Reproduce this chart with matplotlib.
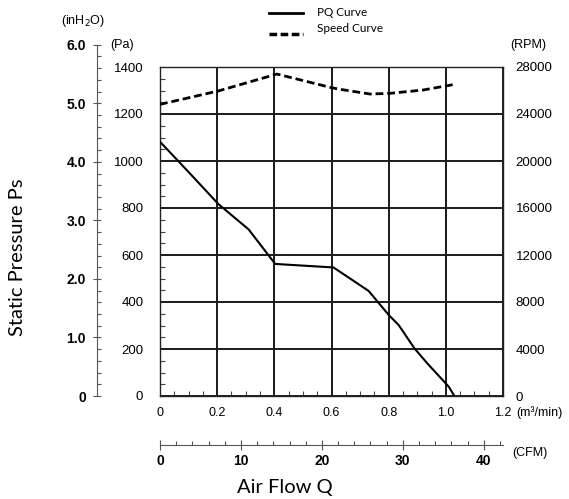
import numpy as np
import matplotlib
matplotlib.use('Agg')
import matplotlib.pyplot as plt
from matplotlib.lines import Line2D
from matplotlib.ticker import MultipleLocator

# PQ curve (flow in m3/min, static pressure in Pa)
pq_flow = [0, 0.10, 0.204, 0.31, 0.403, 0.607, 0.73, 0.80, 0.835, 0.89, 0.935, 1.01, 1.03]
pq_pa = [1082, 953, 817, 709, 562, 547, 447, 345, 302, 203, 139, 40, 0]

# Speed curve (RPM)
speed_flow = [0, 0.204, 0.409, 0.60, 0.63, 0.735, 0.805, 0.92, 1.033]
speed_rpm = [24820, 25960, 27400, 26240, 26100, 25700, 25760, 26040, 26530]

flow_ticks = [0, 0.2, 0.4, 0.6, 0.8, 1.0, 1.2]
flow_labels = ['0', '0.2', '0.4', '0.6', '0.8', '1.0', '1.2']
pa_ticks = [0, 200, 400, 600, 800, 1000, 1200, 1400]
rpm_ticks = [0, 4000, 8000, 12000, 16000, 20000, 24000, 28000]
inh2o_ticks = [0, 1, 2, 3, 4, 5, 6]
inh2o_labels = ['0', '1.0', '2.0', '3.0', '4.0', '5.0', '6.0']
cfm_ticks = [0, 10, 20, 30, 40]

PA_PER_INH2O = 249.089
CFM_PER_M3MIN = 1 / 0.0283168

W, H = 569, 499
tick_font = 'Liberation Sans'
title_font = 'Lato'


def fx(px):
    return px / W


def fy(py):
    return 1 - py / H


fig = plt.figure(figsize=(W / 100, H / 100), dpi=100)

# main plot area
x0, x1, y0, y1 = 160, 503, 396, 67
ax = fig.add_axes([fx(x0), fy(y0), fx(x1) - fx(x0), fy(y1) - fy(y0)])
ax.set_xlim(0, 1.2)
ax.set_ylim(0, 1400)
ax.set_xticks(flow_ticks)
ax.set_xticklabels(flow_labels, fontfamily=tick_font, fontsize=9)
ax.set_yticks(pa_ticks)
ax.set_yticklabels([str(t) for t in pa_ticks], fontfamily=tick_font, fontsize=9.5)
ax.xaxis.set_minor_locator(MultipleLocator(0.05))
ax.yaxis.set_minor_locator(MultipleLocator(50))
ax.tick_params(which='major', length=0)
ax.tick_params(axis='y', which='major', pad=12)
ax.tick_params(axis='x', which='major', pad=8)
ax.tick_params(which='minor', direction='in', length=3.5, width=0.8, color='#444',
               left=True, right=True, bottom=True, top=False)
ax.grid(True, which='major', color='#1a1a1a', lw=1.4)
for s in ax.spines.values():
    s.set_linewidth(1.0)
    s.set_color('#222')

ax.plot(pq_flow, pq_pa, color='black', lw=1.5, zorder=3)

# RPM on the right
ax2 = ax.twinx()
ax2.set_ylim(0, 28000)
ax2.set_yticks(rpm_ticks)
ax2.set_yticklabels([str(t) for t in rpm_ticks], fontfamily=tick_font, fontsize=9.5)
ax2.tick_params(axis='y', length=0, pad=9)
for s in ax2.spines.values():
    s.set_visible(False)
ax2.plot(speed_flow, speed_rpm, color='black', lw=2.0, dashes=(2.8, 1.4), zorder=3)

# inH2O scale on the far left
in_top = y0 - (6 * PA_PER_INH2O) * (y0 - y1) / 1400
ax_in = fig.add_axes([fx(97), fy(y0), 0.001, fy(in_top) - fy(y0)])
ax_in.set_facecolor('none')
ax_in.set_ylim(0, 6)
ax_in.set_yticks(inh2o_ticks)
ax_in.set_yticklabels(inh2o_labels, fontfamily=tick_font, fontsize=10, fontweight='bold')
ax_in.yaxis.set_minor_locator(MultipleLocator(0.2))
ax_in.tick_params(axis='y', which='major', direction='inout', length=6, width=0.8,
                  color='#555', pad=5)
ax_in.tick_params(axis='y', which='minor', direction='in', length=3, width=0.8, color='#555')
ax_in.set_xticks([])
for k in ['top', 'right', 'bottom']:
    ax_in.spines[k].set_visible(False)
ax_in.spines['left'].set_color('#555')
ax_in.spines['left'].set_linewidth(0.8)

# CFM scale below
ax_cfm = fig.add_axes([fx(x0), fy(445), fx(x1) - fx(x0), 0.001])
ax_cfm.set_facecolor('none')
ax_cfm.set_xlim(0, 1.2 * CFM_PER_M3MIN)
ax_cfm.set_xticks(cfm_ticks)
ax_cfm.set_xticklabels([str(t) for t in cfm_ticks], fontfamily=tick_font, fontsize=10,
                       fontweight='bold')
ax_cfm.xaxis.set_minor_locator(MultipleLocator(2))
ax_cfm.tick_params(axis='x', which='major', direction='inout', length=7, width=0.8,
                   color='#555', pad=3)
ax_cfm.tick_params(axis='x', which='minor', direction='in', length=3, width=0.8, color='#555')
ax_cfm.set_yticks([])
for k in ['top', 'right', 'left']:
    ax_cfm.spines[k].set_visible(False)
ax_cfm.spines['bottom'].set_color('#555')
ax_cfm.spines['bottom'].set_linewidth(0.8)

# unit labels
fig.text(fx(83), fy(21), '(inH$_2$O)', fontfamily=tick_font, fontsize=9, ha='center', va='center')
fig.text(fx(122), fy(45), '(Pa)', fontfamily=tick_font, fontsize=9, ha='center', va='center')
fig.text(fx(528), fy(45), '(RPM)', fontfamily=tick_font, fontsize=9, ha='center', va='center')
fig.text(fx(516), fy(413), '(m³/min)', fontfamily=tick_font, fontsize=9, ha='left', va='center')
fig.text(fx(512), fy(453), '(CFM)', fontfamily=tick_font, fontsize=9, ha='left', va='center')

# axis titles
fig.text(fx(18), fy(257), 'Static Pressure Ps', fontfamily=title_font, fontsize=14.5,
         rotation=90, ha='center', va='center')
fig.text(fx(285), fy(487), 'Air Flow Q', fontfamily=title_font, fontsize=14.5,
         ha='center', va='center')

# legend
fig.add_artist(Line2D([fx(269), fx(303)], [fy(13), fy(13)], color='black', lw=2.0))
fig.add_artist(Line2D([fx(269), fx(303)], [fy(34), fy(34)], color='black', lw=2.5,
                      dashes=(2.2, 1.0)))
fig.text(fx(317), fy(13), 'PQ Curve', fontfamily=title_font, fontsize=8.5, ha='left', va='center')
fig.text(fx(317), fy(28), 'Speed Curve', fontfamily=title_font, fontsize=8.5, ha='left', va='center')

fig.savefig('out.png', dpi=100)
